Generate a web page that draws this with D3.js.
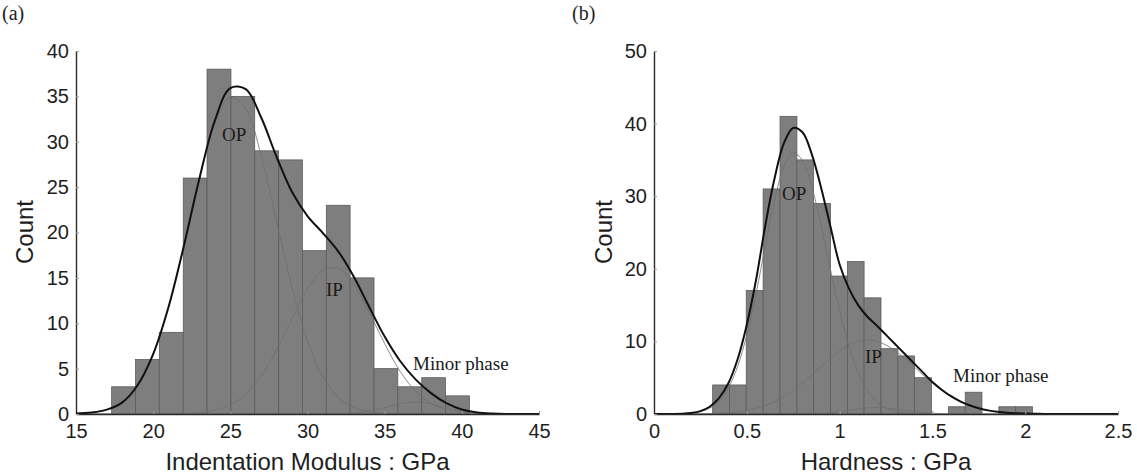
<!DOCTYPE html>
<html><head><meta charset="utf-8">
<script src="https://cdn.jsdelivr.net/npm/d3@7"></script>
<style>body{margin:0;background:#fff}</style>
</head><body>
<svg id="chart" width="1137" height="476"></svg>
<script>
// ---------- Panel (a): Indentation Modulus ----------
const countsA = [3, 6, 9, 26, 38, 35, 29, 28, 18, 23, 15, 5, 3, 4, 2];
const binEdgesA = [17.31, 18.86, 20.40, 21.95, 23.49, 25.04, 26.58, 28.13, 29.67, 31.22, 32.76, 34.31, 35.85, 37.40, 38.94, 40.49];
const xTicksA = [15, 20, 25, 30, 35, 40, 45];
const xTickLabelsA = ["15", "20", "25", "30", "35", "40", "45"];
const yTicksA = [0, 5, 10, 15, 20, 25, 30, 35, 40];
const yTickLabelsA = ["0", "5", "10", "15", "20", "25", "30", "35", "40"];
const curveXA = [15,16,17,18,19,20,21,22,23,24,25,26,27,28,29,30,31,32,33,34,35,36,37,38,39,40,41,42,43,44,45];
const totalA = [0.05,0.16,0.48,1.28,3.2,6.6,11.81,18.6,25.99,32.34,35.92,35.79,32.67,28.32,24.46,21.81,19.93,17.90,15.13,11.79,8.53,5.84,3.82,2.30,1.19,0.50,0.17,0.05,0.01,0,0];
const opA    = [0.05,0.16,0.48,1.28,3.2,6.6,11.8,18.55,25.85,31.93,34.91,33.60,28.47,21.23,13.93,8.05,4.10,1.83,0.72,0.25,0.08,0.02,0,0,0,0,0,0,0,0,0];
const ipA    = [0,0,0,0,0,0,0.01,0.05,0.14,0.41,1.01,2.19,4.20,7.09,10.53,13.76,15.83,16.04,14.30,11.22,7.75,4.71,2.52,1.19,0.49,0.18,0.06,0.02,0,0,0];
const minorA = [0,0,0,0,0,0,0,0,0,0,0,0,0,0,0,0,0,0.03,0.11,0.32,0.70,1.11,1.30,1.11,0.70,0.32,0.11,0.03,0,0,0];
const annotTextA = ["OP", "IP", "Minor phase"];
const annotXA = [24.46, 31.2, 36.84];
const annotYA = [30.1, 13.0, 4.85];

// ---------- Panel (b): Hardness ----------
const countsB = [4, 4, 17, 31, 41, 35, 29, 19, 21, 16, 9, 8, 5, 0, 1, 3, 0, 1, 1];
const binEdgesB = [0.316, 0.407, 0.497, 0.588, 0.679, 0.770, 0.860, 0.951, 1.042, 1.132, 1.223, 1.314, 1.404, 1.495, 1.586, 1.677, 1.767, 1.858, 1.949, 2.039];
const xTicksB = [0, 0.5, 1, 1.5, 2, 2.5];
const xTickLabelsB = ["0", "0.5", "1", "1.5", "2", "2.5"];
const yTicksB = [0, 10, 20, 30, 40, 50];
const yTickLabelsB = ["0", "10", "20", "30", "40", "50"];
const curveXB = [0,0.05,0.1,0.15,0.2,0.25,0.3,0.35,0.4,0.45,0.5,0.55,0.6,0.65,0.7,0.75,0.8,0.85,0.9,0.95,1.0,1.05,1.1,1.15,1.2,1.25,1.3,1.35,1.4,1.45,1.5,1.55,1.6,1.65,1.7,1.75,1.8,1.85,1.9,1.95,2.0,2.05,2.1,2.15,2.2,2.25,2.3,2.35,2.4,2.45,2.5];
const totalB = [0,0,0.01,0.04,0.14,0.4,1.0,2.2,4.2,7.5,12.3,18.5,26.0,32.5,37.3,39.4,38.8,35.8,31.2,25.9,20.6,17.3,15.0,13.4,12.2,10.9,9.6,8.3,7.0,5.7,4.4,3.35,2.45,1.75,1.2,0.8,0.5,0.31,0.18,0.11,0.06,0.03,0.01,0,0,0,0,0,0,0,0];
const opB    = [0,0,0,0.04,0.13,0.33,0.81,1.77,3.57,6.53,10.9,16.6,23.2,29.4,34.1,36.0,34.9,31.3,26.0,20.0,14.3,9.4,5.74,3.24,1.70,0.82,0.37,0.15,0.06,0.02,0,0,0,0,0,0,0,0,0,0,0,0,0,0,0,0,0,0,0,0,0];
const ipB    = [0,0,0,0,0.01,0.03,0.06,0.11,0.18,0.31,0.50,0.78,1.18,1.71,2.40,3.25,4.25,5.36,6.53,7.67,8.69,9.50,10.02,10.2,10.02,9.50,8.69,7.67,6.53,5.36,4.25,3.25,2.40,1.71,1.18,0.78,0.50,0.31,0.18,0.11,0.06,0.03,0.01,0,0,0,0,0,0,0,0];
const minorB = [0,0,0,0,0,0,0,0,0,0,0,0,0,0,0,0,0,0.04,0.09,0.19,0.33,0.51,0.70,0.85,0.9,0.85,0.70,0.51,0.33,0.19,0.09,0.04,0.01,0,0,0,0,0,0,0,0,0,0,0,0,0,0,0,0,0,0];
const annotTextB = ["OP", "IP", "Minor phase"];
const annotXB = [0.69, 1.137, 1.611];
const annotYB = [29.5, 7.0, 4.4];

const svg = d3.select("#chart");
const SANS = "'Liberation Sans', Arial, Helvetica, sans-serif";
const SERIF = "'Liberation Serif', 'Times New Roman', serif";

function drawPanel(o) {
  const g = svg.append("g");
  const x = d3.scaleLinear().domain(o.xDomain).range(o.xRange);
  const y = d3.scaleLinear().domain(o.yDomain).range([414, 51]);

  const bins = o.counts.map((c, i) => ({ c, x0: o.edges[i], x1: o.edges[i + 1] })).filter(d => d.c > 0);
  g.selectAll("rect.bar").data(bins).join("rect")
    .attr("class", "bar")
    .attr("x", d => x(d.x0))
    .attr("width", d => x(d.x1) - x(d.x0))
    .attr("y", d => y(d.c))
    .attr("height", d => y(0) - y(d.c))
    .attr("fill", "#7e7e7e")
    .attr("stroke", "#5c5c5c")
    .attr("stroke-width", 0.8);

  const line = d3.line()
    .x((d, i) => x(o.cx[i]))
    .y(d => y(d))
    .curve(d3.curveCatmullRom.alpha(0.5));

  [o.op, o.ip, o.minor].forEach(s => {
    g.append("path").datum(s).attr("d", line)
      .attr("fill", "none").attr("stroke", "#6e6e6e").attr("stroke-width", 0.8);
  });
  g.append("path").datum(o.total).attr("d", line)
    .attr("fill", "none").attr("stroke", "#111").attr("stroke-width", 2);

  o.annText.forEach((t, i) => {
    g.append("text").attr("x", x(o.annX[i])).attr("y", y(o.annY[i]))
      .attr("font-family", SERIF).attr("font-size", 19).attr("fill", "#1a1a1a").text(t);
  });

  const xAxis = d3.axisBottom(x).tickValues(o.xTicks).tickFormat((d, i) => o.xLabels[i])
    .tickSizeInner(-3).tickSizeOuter(0).tickPadding(10);
  const yAxis = d3.axisLeft(y).tickValues(o.yTicks).tickFormat((d, i) => o.yLabels[i])
    .tickSizeInner(-3).tickSizeOuter(0).tickPadding(7);

  const gx = g.append("g").attr("transform", "translate(0,414)").call(xAxis);
  const gy = g.append("g").attr("transform", `translate(${o.xRange[0]},0)`).call(yAxis);
  [gx, gy].forEach(a => {
    a.select(".domain").attr("stroke", "#2a2a2a").attr("stroke-width", 1.4);
    a.selectAll(".tick line").attr("stroke", "#9a9a9a");
    a.selectAll(".tick text").attr("font-family", SANS).attr("font-size", 20).attr("fill", "#1e1e1e");
  });

  g.append("text").attr("x", (o.xRange[0] + o.xRange[1]) / 2).attr("y", 470)
    .attr("text-anchor", "middle").attr("font-family", SANS).attr("font-size", 24).attr("fill", "#1e1e1e")
    .text(o.xTitle);
  g.append("text").attr("transform", `translate(${o.countX},232) rotate(-90)`)
    .attr("text-anchor", "middle").attr("font-family", SANS).attr("font-size", 24).attr("fill", "#1e1e1e")
    .text("Count");
  g.append("text").attr("x", o.tagX).attr("y", 20)
    .attr("font-family", SERIF).attr("font-size", 20).attr("fill", "#1e1e1e").text(o.tag);
}

drawPanel({
  xDomain: [15, 45], xRange: [76, 539], yDomain: [0, 40],
  counts: countsA, edges: binEdgesA, cx: curveXA,
  total: totalA, op: opA, ip: ipA, minor: minorA,
  annText: annotTextA, annX: annotXA, annY: annotYA,
  xTicks: xTicksA, xLabels: xTickLabelsA, yTicks: yTicksA, yLabels: yTickLabelsA,
  xTitle: "Indentation Modulus : GPa", countX: 33, tag: "(a)", tagX: 2
});
drawPanel({
  xDomain: [0, 2.5], xRange: [654, 1118], yDomain: [0, 50],
  counts: countsB, edges: binEdgesB, cx: curveXB,
  total: totalB, op: opB, ip: ipB, minor: minorB,
  annText: annotTextB, annX: annotXB, annY: annotYB,
  xTicks: xTicksB, xLabels: xTickLabelsB, yTicks: yTicksB, yLabels: yTickLabelsB,
  xTitle: "Hardness : GPa", countX: 612, tag: "(b)", tagX: 572
});
</script>
</body></html>
